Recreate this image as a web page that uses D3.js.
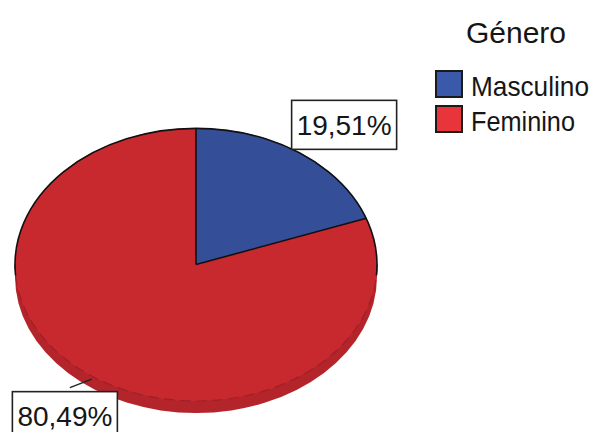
<!DOCTYPE html>
<html>
<head>
<meta charset="utf-8">
<script src="https://cdn.jsdelivr.net/npm/d3@7"></script>
<style>
  body { margin: 0; background: #fff; }
  text { font-family: "Liberation Sans", Arial, sans-serif; fill: #161616; }
</style>
</head>
<body>
<div id="chart"></div>
<script>
const categories = ["Masculino", "Feminino"];
const percents = [19.51, 80.49];
const sliceColors = ["#344e97", "#c8292f"];
const legendColors = ["#3a59a8", "#e8353b"];
const legendTitle = "Género";

const width = 596, height = 432;

const svg = d3.select("#chart")
  .append("svg")
  .attr("width", width)
  .attr("height", height);

// pie geometry (tilted ellipse)
const cx = 196, cy = 264.5, rx = 181, ry = 136.5, depth = 12;

const comma = d3.formatLocale({decimal: ",", thousands: ".", grouping: [3], currency: ["", ""]});
const fmt = comma.format(".2f");

const data = categories.map((c, i) => ({name: c, value: percents[i], color: sliceColors[i]}));
const arcs = d3.pie().sort(null).value(d => d.value)(data);
const arc = d3.arc().innerRadius(0).outerRadius(1);

// side of the pie
svg.append("ellipse")
  .attr("cx", cx).attr("cy", cy + depth)
  .attr("rx", rx).attr("ry", ry)
  .attr("fill", "#b3252b");

const face = svg.append("g")
  .attr("transform", `translate(${cx},${cy}) scale(${rx},${ry})`);

face.selectAll("path.slice")
  .data(arcs)
  .join("path")
  .attr("class", "slice")
  .attr("d", arc)
  .attr("fill", d => d.data.color);

// rim: dark on back half, faint on front half
const rim = d3.arc().innerRadius(1).outerRadius(1);
face.append("path")
  .attr("d", rim({startAngle: Math.PI / 2, endAngle: 3 * Math.PI / 2}))
  .attr("fill", "none")
  .attr("stroke", "#a11f25")
  .attr("stroke-width", 1.2)
  .attr("stroke-dasharray", "10 6")
  .attr("vector-effect", "non-scaling-stroke");
face.append("path")
  .attr("d", rim({startAngle: -Math.PI / 2 - 0.08, endAngle: Math.PI / 2 + 0.08}))
  .attr("fill", "none")
  .attr("stroke", "#111")
  .attr("stroke-width", 1.6)
  .attr("vector-effect", "non-scaling-stroke");

// slice borders (radii)
face.selectAll("line.edge")
  .data(arcs)
  .join("line")
  .attr("class", "edge")
  .attr("x1", 0).attr("y1", 0)
  .attr("x2", d => Math.sin(d.startAngle))
  .attr("y2", d => -Math.cos(d.startAngle))
  .attr("stroke", "#111")
  .attr("stroke-width", 1.6)
  .attr("vector-effect", "non-scaling-stroke");

// labels
const labelOffset = [{dx: 44, dy: -28, leader: false}, {dx: -27, dy: 37, leader: true}];
const boxW = 105, boxH = 49;

arcs.forEach((d, i) => {
  const mid = (d.startAngle + d.endAngle) / 2;
  const ax = cx + rx * Math.sin(mid);
  const ay = cy - ry * Math.cos(mid) + (Math.cos(mid) < 0 ? 3 : 0);
  const bx = ax + labelOffset[i].dx, by = ay + labelOffset[i].dy;
  if (labelOffset[i].leader) {
    svg.append("line")
      .attr("x1", ax).attr("y1", ay)
      .attr("x2", bx + 5).attr("y2", by - boxH / 2 - 4)
      .attr("stroke", "#222")
      .attr("stroke-width", 1.5);
  }
  svg.append("rect")
    .attr("x", bx - boxW / 2).attr("y", by - boxH / 2)
    .attr("width", boxW).attr("height", boxH)
    .attr("fill", "#fff")
    .attr("stroke", "#222")
    .attr("stroke-width", 1.6);
  svg.append("text")
    .attr("x", bx).attr("y", by + 10)
    .attr("text-anchor", "middle")
    .attr("font-size", 28)
    .text(fmt(d.data.value) + "%");
});

// legend
svg.append("text")
  .attr("x", 516).attr("y", 43)
  .attr("text-anchor", "middle")
  .attr("font-size", 30)
  .text(legendTitle);

const legendLengths = [118, 104];
const lg = svg.append("g").attr("transform", "translate(435,70)");
const item = lg.selectAll("g")
  .data(categories)
  .join("g")
  .attr("transform", (d, i) => `translate(0,${i * 35})`);
item.append("rect")
  .attr("x", 1).attr("y", 1)
  .attr("width", 26).attr("height", 26)
  .attr("fill", (d, i) => legendColors[i])
  .attr("stroke", "#1a1a1a")
  .attr("stroke-width", 2);
item.append("text")
  .attr("x", 36).attr("y", 26)
  .attr("font-size", 28)
  .attr("textLength", (d, i) => legendLengths[i])
  .attr("lengthAdjust", "spacingAndGlyphs")
  .text(d => d);
</script>
</body>
</html>
